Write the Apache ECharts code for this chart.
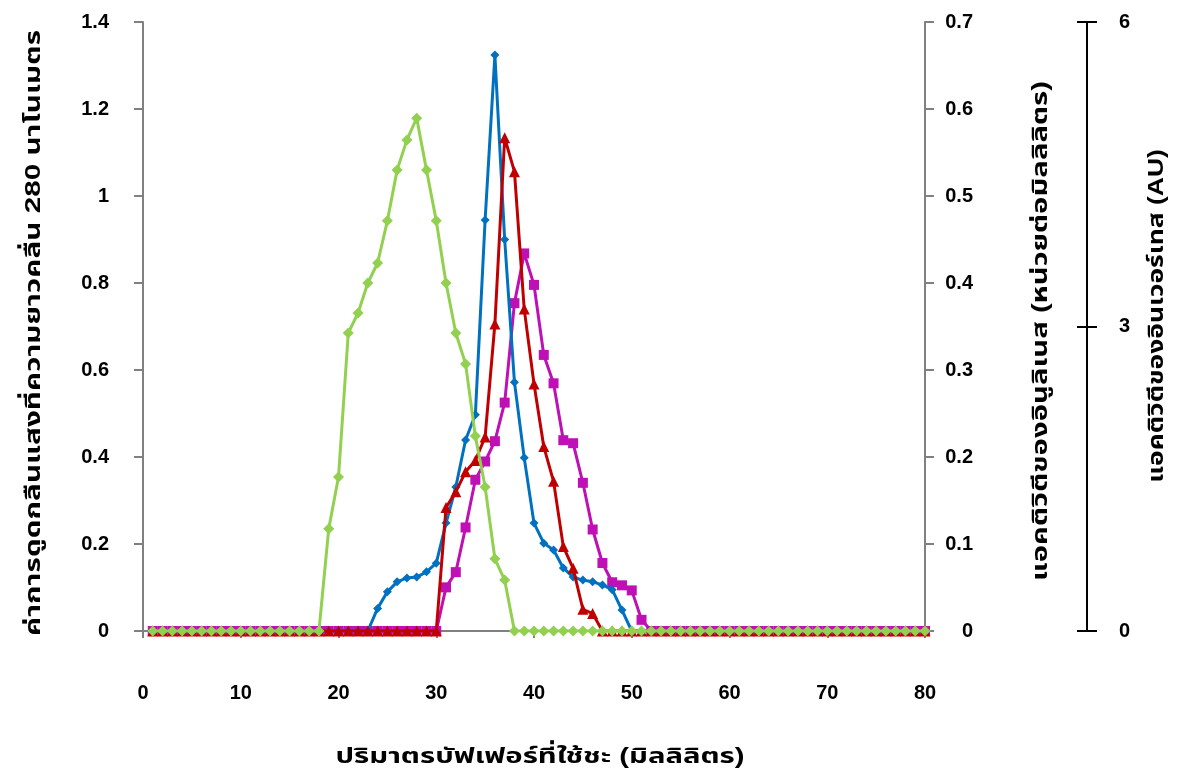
<!DOCTYPE html>
<html>
<head>
<meta charset="utf-8">
<script src="https://cdn.jsdelivr.net/npm/echarts@6/dist/echarts.min.js"></script>
<style>
html,body{margin:0;padding:0;background:#fff;}
#chart{width:1184px;height:778px;}
</style>
</head>
<body>
<div id="chart"></div>
<script>
// Elution volume (mL) of each fraction
const volumeMl = [1,2,3,4,5,6,7,8,9,10,11,12,13,14,15,16,17,18,19,20,
  21,22,23,24,25,26,27,28,29,30,31,32,33,34,35,36,37,38,39,40,
  41,42,43,44,45,46,47,48,49,50,51,52,53,54,55,56,57,58,59,60,
  61,62,63,64,65,66,67,68,69,70,71,72,73,74,75,76,77,78,79,80];

// Green diamonds - absorbance 280 nm (left axis)
const greenA280 = [0,0,0,0,0,0,0,0,0,0,0,0,0,0,0,0,0,0,0.235,0.354,
  0.685,0.731,0.80,0.846,0.943,1.06,1.129,1.179,1.06,0.943,0.80,0.685,0.614,0.448,0.331,0.166,0.117,0,0,0,
  0,0,0,0,0,0,0,0,0,0,0,0,0,0,0,0,0,0,0,0,
  0,0,0,0,0,0,0,0,0,0,0,0,0,0,0,0,0,0,0,0];

// Blue diamonds - absorbance 280 nm (left axis)
const blueA280 = [0,0,0,0,0,0,0,0,0,0,0,0,0,0,0,0,0,0,0,0,
  0,0,0,0.052,0.09,0.113,0.122,0.124,0.136,0.156,0.248,0.331,0.439,0.497,0.945,1.324,0.9,0.572,0.398,0.248,
  0.202,0.186,0.145,0.124,0.117,0.113,0.106,0.095,0.048,0,0,0,0,0,0,0,0,0,0,0,
  0,0,0,0,0,0,0,0,0,0,0,0,0,0,0,0,0,0,0,0];

// Red triangles - inulinase activity, U/mL (middle axis)
const redInulinase = [0,0,0,0,0,0,0,0,0,0,0,0,0,0,0,0,0,0,0,0,
  0,0,0,0,0,0,0,0,0,0,0.142,0.16,0.183,0.196,0.223,0.353,0.567,0.528,0.37,0.284,
  0.212,0.172,0.097,0.072,0.025,0.02,0,0,0,0,0,0,0,0,0,0,0,0,0,0,
  0,0,0,0,0,0,0,0,0,0,0,0,0,0,0,0,0,0,0,0];

// Magenta squares - invertase activity, AU (right axis)
const magentaInvertase = [0,0,0,0,0,0,0,0,0,0,0,0,0,0,0,0,0,0,0,0,
  0,0,0,0,0,0,0,0,0,0,0.43,0.58,1.02,1.49,1.67,1.87,2.25,3.23,3.72,3.41,
  2.72,2.44,1.88,1.85,1.46,1.0,0.67,0.48,0.45,0.40,0.11,0,0,0,0,0,0,0,0,0,
  0,0,0,0,0,0,0,0,0,0,0,0,0,0,0,0,0,0,0,0];

const xTitle = 'ปริมาตรบัฟเฟอร์ที่ใช้ชะ (มิลลิลิตร)';
const yLeftTitle = 'ค่าการดูดกลืนแสงที่ความยาวคลื่น 280 นาโนเมตร';
const yMidTitle = 'แอคติวิตีของอินูลิเนส (หน่วยต่อมิลลิลิตร)';
const yRightTitle = 'แอคติวิตีของอินเวอร์เทส (AU)';

const pairs = arr => volumeMl.map((v, i) => [v, arr[i]]);
const FONT = '"Liberation Sans", Arial, "Noto Sans Thai", sans-serif';
const gray = '#808080';
const lbl = {fontFamily: FONT, fontWeight: 'bold', fontSize: 20, color: '#000'};

const chart = echarts.init(document.getElementById('chart'));
chart.setOption({
  animation: false,
  backgroundColor: '#fff',
  grid: {left: 143, right: 259, top: 22, bottom: 147, containLabel: false},
  xAxis: {
    type: 'value', min: 0, max: 80, interval: 10,
    axisLine: {show: true, lineStyle: {color: gray, width: 2}},
    axisTick: {show: true, length: 7, lineStyle: {color: gray, width: 2}},
    axisLabel: Object.assign({margin: 52}, lbl),
    splitLine: {show: false}
  },
  yAxis: [
    {type: 'value', position: 'left', min: 0, max: 1.4, interval: 0.2,
     axisLine: {show: true, lineStyle: {color: gray, width: 2}},
     axisTick: {show: true, length: 9, lineStyle: {color: gray, width: 2}},
     axisLabel: Object.assign({margin: 34}, lbl),
     splitLine: {show: false}},
    {type: 'value', position: 'right', offset: 0, min: 0, max: 0.7, interval: 0.1,
     axisLine: {show: true, lineStyle: {color: gray, width: 2}},
     axisTick: {show: true, length: 9, lineStyle: {color: gray, width: 2}},
     axisLabel: Object.assign({margin: 48, align: 'right'}, lbl),
     splitLine: {show: false}},
    {type: 'value', position: 'right', offset: 162, min: 0, max: 6, interval: 3,
     axisLine: {show: true, lineStyle: {color: '#000', width: 2}},
     axisTick: {show: true, length: 10, lineStyle: {color: '#000', width: 2}},
     axisLabel: Object.assign({margin: 32}, lbl),
     splitLine: {show: false}},
    {type: 'value', position: 'right', offset: 162, min: 0, max: 6, interval: 3,
     axisLine: {show: false},
     axisTick: {show: true, inside: true, length: 10, lineStyle: {color: '#000', width: 2}},
     axisLabel: {show: false},
     splitLine: {show: false}}
  ],
  series: [
    {name: 'magenta', type: 'line', yAxisIndex: 2, data: pairs(magentaInvertase),
     symbol: 'rect', symbolSize: 10, color: '#BE10B4',
     lineStyle: {width: 3}, z: 2},
    {name: 'blue', type: 'line', yAxisIndex: 0, data: pairs(blueA280),
     symbol: 'diamond', symbolSize: 9, color: '#0070C0',
     lineStyle: {width: 3}, z: 3},
    {name: 'red', type: 'line', yAxisIndex: 1, data: pairs(redInulinase),
     symbol: 'triangle', symbolSize: 11, color: '#C00000',
     lineStyle: {width: 3}, z: 4},
    {name: 'green', type: 'line', yAxisIndex: 0, data: pairs(greenA280),
     symbol: 'diamond', symbolSize: 11, color: '#92D050',
     lineStyle: {width: 3}, z: 5}
  ],
  graphic: [
    {type: 'text', x: 540, y: 757, scaleX: 1.33, style: {text: xTitle, font: 'bold 22px ' + FONT, fill: '#000', textAlign: 'center', textVerticalAlign: 'middle'}},
    {type: 'text', x: 34, y: 333, rotation: Math.PI / 2, scaleX: 1.35, style: {text: yLeftTitle, font: 'bold 22px ' + FONT, fill: '#000', textAlign: 'center', textVerticalAlign: 'middle'}},
    {type: 'text', x: 1041, y: 331, rotation: Math.PI / 2, scaleX: 1.33, style: {text: yMidTitle, font: 'bold 22px ' + FONT, fill: '#000', textAlign: 'center', textVerticalAlign: 'middle'}},
    {type: 'text', x: 1157, y: 316, rotation: Math.PI / 2, scaleX: 1.2, style: {text: yRightTitle, font: 'bold 22px ' + FONT, fill: '#000', textAlign: 'center', textVerticalAlign: 'middle'}}
  ]
});
</script>
</body>
</html>
